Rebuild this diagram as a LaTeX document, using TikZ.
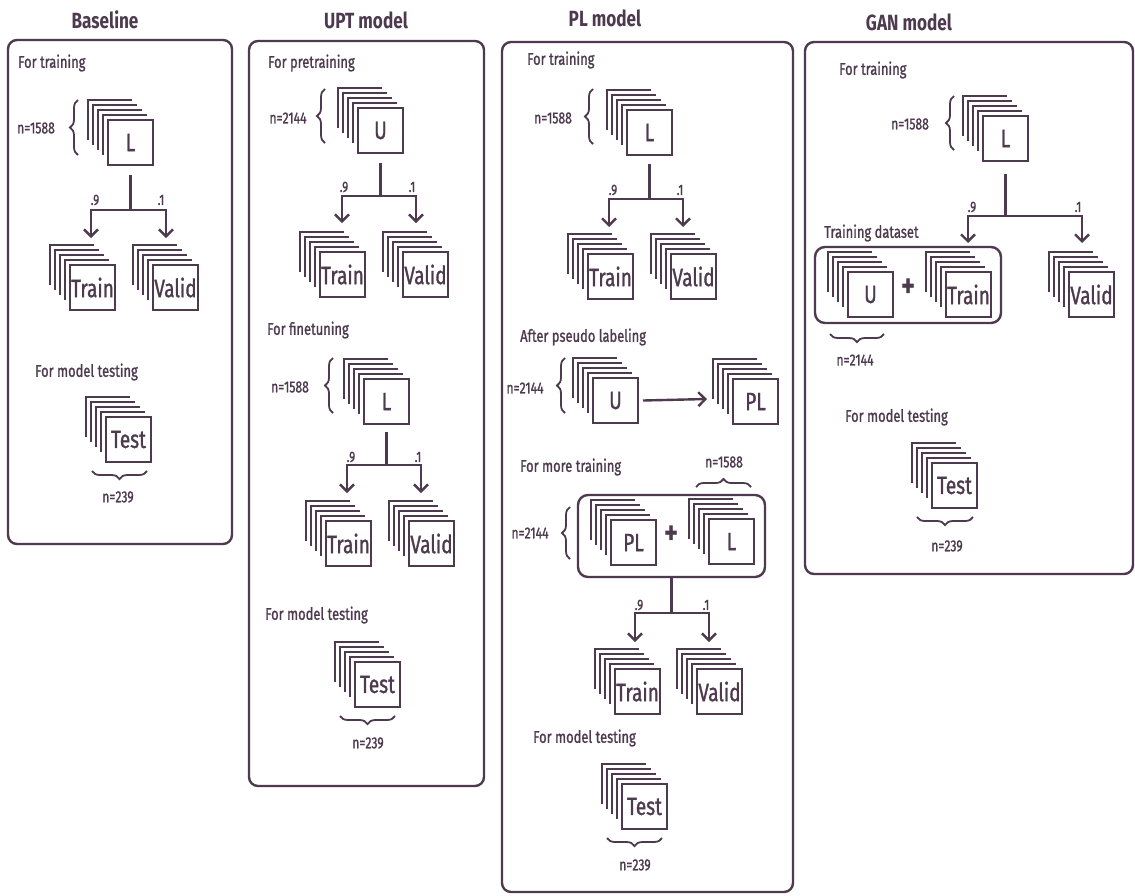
\documentclass[tikz,border=0pt]{standalone}
\usepackage{fontspec}
\setmainfont{Fira Sans}[FakeStretch=0.78]
\newfontfamily\labelfont{Fira Sans}[FakeStretch=0.76, FakeBold=1.2]
\usetikzlibrary{arrows.meta,decorations.pathreplacing,calc}
\definecolor{ink}{RGB}{77,58,78}

\tikzset{
  sheet/.style={draw=ink, line width=2.4pt, fill=white, minimum size=45pt,
    inner sep=0pt, outer sep=0pt, text=ink, font=\labelfont\fontsize{25}{25}\selectfont},
  layer/.style={draw=ink, line width=2.8pt},
  conn/.style={draw=ink, line width=2.4pt},
  arr/.style={conn, -{Straight Barb[length=7pt,width=14pt,line width=2.4pt]}},
  frame/.style={draw=ink, line width=2.4pt, rounded corners=9pt},
  group/.style={draw=ink, line width=2.4pt, rounded corners=10pt, inner sep=0pt},
  title/.style={text=ink, inner sep=0pt, font=\bfseries\fontsize{22}{26}\selectfont},
  sect/.style={text=ink, anchor=west, inner sep=0pt, font=\labelfont\fontsize{17}{20}\selectfont},
  count/.style={text=ink, inner sep=0pt, font=\labelfont\fontsize{16}{18}\selectfont},
  ratio/.style={text=ink, inner sep=0pt, font=\labelfont\fontsize{15}{16}\selectfont},
  plus/.style={text=ink, inner sep=0pt, font=\bfseries\fontsize{34}{34}\selectfont},
  brace/.style={draw=ink, line width=1.8pt, decorate,
    decoration={brace, amplitude=8pt}},
}

% a stack of data sheets: name, left, top (front sheet), label
\newcommand\datastack[4]{%
  \node[sheet] (#1) at ({#2+22.5},{#3+22.5}) {#4};
  \foreach \off in {5,10,15,20}{%
    \draw[layer] ($(#1.north west)+(-\off,-\off)$) ++(0,40) -- ++(0,-40) -- ++(44,0);
  }%
}

\begin{document}
\begin{tikzpicture}[x=1pt,y=-1pt]
\useasboundingbox (0,0) rectangle (1135,895);

% ---------------- Baseline ----------------
\node[title] (bTitle) at (105,20) {Baseline};
\draw[frame] (8,40) rectangle (232,544);
\node[sect] (bS1) at (18,63) {For training};
\datastack{bL}{108}{120}{L}
\draw[brace] (78,155) -- (78,100);
\node[count] (bN1) at (36,128) {n=1588};
\coordinate (bSp) at (bL.south |- 0,210);
\coordinate (bT1) at (91,238);
\coordinate (bT2) at (166,238);
\draw[conn] ([yshift=-10pt]bL.south) -- (bSp);
\draw[arr] (bSp) -| (bT1);
\draw[arr] (bSp) -| (bT2);
\node[ratio] (bR1) at (95,200) {.9};
\node[ratio] (bR2) at (161,200) {.1};
\datastack{bTr}{70}{265}{Train}
\datastack{bVa}{153}{265}{Valid}
\node[sect] (bS2) at (35,372) {For model testing};
\datastack{bTe}{106}{417}{Test}
\draw[brace] (147,471) -- (92,471);
\node[count] (bN2) at (118,497) {n=239};

% ---------------- UPT model ----------------
\node[title] (uTitle) at (366,20) {UPT model};
\draw[frame] (249,41) rectangle (484,786);
\node[sect] (uS1) at (268,63) {For pretraining};
\datastack{uU}{358}{108}{U}
\draw[brace] (325,143) -- (325,89);
\node[count] (uN1) at (288,118) {n=2144};
\coordinate (uSp1) at (uU.south |- 0,196);
\coordinate (uT1) at (342,223);
\coordinate (uT2) at (416,223);
\draw[conn] ([yshift=-10pt]uU.south) -- (uSp1);
\draw[arr] (uSp1) -| (uT1);
\draw[arr] (uSp1) -| (uT2);
\node[ratio] (uR1) at (344,187) {.9};
\node[ratio] (uR2) at (412,187) {.1};
\datastack{uTr1}{320}{252}{Train}
\datastack{uVa1}{403}{252}{Valid}
\node[sect] (uS2) at (267,330) {For finetuning};
\datastack{uL}{364}{379}{L}
\draw[brace] (333,413) -- (333,358);
\node[count] (uN2) at (290,387) {n=1588};
\coordinate (uSp2) at (uL.south |- 0,465);
\coordinate (uT3) at (347,493);
\coordinate (uT4) at (421,493);
\draw[conn] ([yshift=-8pt]uL.south) -- (uSp2);
\draw[arr] (uSp2) -| (uT3);
\draw[arr] (uSp2) -| (uT4);
\node[ratio] (uR3) at (351,457) {.9};
\node[ratio] (uR4) at (418,457) {.1};
\datastack{uTr2}{326}{521}{Train}
\datastack{uVa2}{409}{521}{Valid}
\node[sect] (uS3) at (265,615) {For model testing};
\datastack{uTe}{355}{662}{Test}
\draw[brace] (395,716) -- (340,716);
\node[count] (uN3) at (368,743) {n=239};

% ---------------- PL model ----------------
\node[title] (pTitle) at (605,18) {PL model};
\draw[frame] (502,42) rectangle (793,892);
\node[sect] (pS1) at (527,60) {For training};
\datastack{pL}{627}{110}{L}
\draw[brace] (593,144) -- (593,89);
\node[count] (pN1) at (553,118) {n=1588};
\coordinate (pSp1) at (pL.south |- 0,199);
\coordinate (pT1) at (609,227);
\coordinate (pT2) at (683,227);
\draw[conn] ([yshift=-9pt]pL.south) -- (pSp1);
\draw[arr] (pSp1) -| (pT1);
\draw[arr] (pSp1) -| (pT2);
\node[ratio] (pR1) at (613,190) {.9};
\node[ratio] (pR2) at (680,190) {.1};
\datastack{pTr1}{588}{254}{Train}
\datastack{pVa1}{671}{254}{Valid}
\node[sect] (pS2) at (520,337) {After pseudo labeling};
\datastack{pU}{593}{378}{U}
\draw[brace] (565,413) -- (565,358);
\node[count] (pN2) at (525,388) {n=2144};
\datastack{pPL}{733}{379}{PL}
\coordinate (pT3) at (707,399);
\draw[arr] ([xshift=5pt]pU.east) -- (pT3);
\node[sect] (pS3) at (520,467) {For more training};
\node[group, minimum width=187pt, minimum height=82pt] (pBox) at (671.5,536) {};
\datastack{pPL2}{611}{520}{PL}
\node[plus] (pPlus) at (672,535) {+};
\datastack{pL2}{709}{519}{L}
\draw[brace] (696,487) -- (751,487);
\node[count] (pN3) at (724,462) {n=1588};
\draw[brace] (570,559) -- (570,507);
\node[count] (pN4) at (530,533) {n=2144};
\coordinate (pSp2) at (pBox.south |- 0,613);
\coordinate (pT4) at (635,642);
\coordinate (pT5) at (709,642);
\draw[conn] (pBox.south) -- (pSp2);
\draw[arr] (pSp2) -| (pT4);
\draw[arr] (pSp2) -| (pT5);
\node[ratio] (pR3) at (639,605) {.9};
\node[ratio] (pR4) at (706,605) {.1};
\datastack{pTr2}{615}{669}{Train}
\datastack{pVa2}{697}{669}{Valid}
\node[sect] (pS4) at (533,738) {For model testing};
\datastack{pTe}{622}{784}{Test}
\draw[brace] (662,838) -- (607,838);
\node[count] (pN5) at (635,865) {n=239};

% ---------------- GAN model ----------------
\node[title] (gTitle) at (909,22) {GAN model};
\draw[frame] (805,42) rectangle (1133,574);
\node[sect] (gS1) at (839,70) {For training};
\datastack{gL}{983}{116}{L}
\draw[brace] (954,150) -- (954,96);
\node[count] (gN1) at (910,124) {n=1588};
\coordinate (gSp) at (gL.south |- 0,216);
\coordinate (gT1) at (968,243);
\coordinate (gT2) at (1082,243);
\draw[conn] ([yshift=-13pt]gL.south) -- (gSp);
\draw[arr] (gSp) -| (gT1);
\draw[arr] (gSp) -| (gT2);
\node[ratio] (gR1) at (972,207) {.9};
\node[ratio] (gR2) at (1078,207) {.1};
\node[sect] (gS2) at (824,233) {Training dataset};
\node[group, minimum width=186pt, minimum height=76pt] (gBox) at (908,285) {};
\datastack{gU}{848}{272}{U}
\node[plus] (gPlus) at (909,288) {+};
\datastack{gTr}{946}{272}{Train}
\datastack{gVa}{1069}{272}{Valid}
\draw[brace] (884,334) -- (830,334);
\node[count] (gN2) at (855,360) {n=2144};
\node[sect] (gS3) at (845,417) {For model testing};
\datastack{gTe}{932}{463}{Test}
\draw[brace] (973,517) -- (917,517);
\node[count] (gN3) at (947,546) {n=239};
\end{tikzpicture}
\end{document}
